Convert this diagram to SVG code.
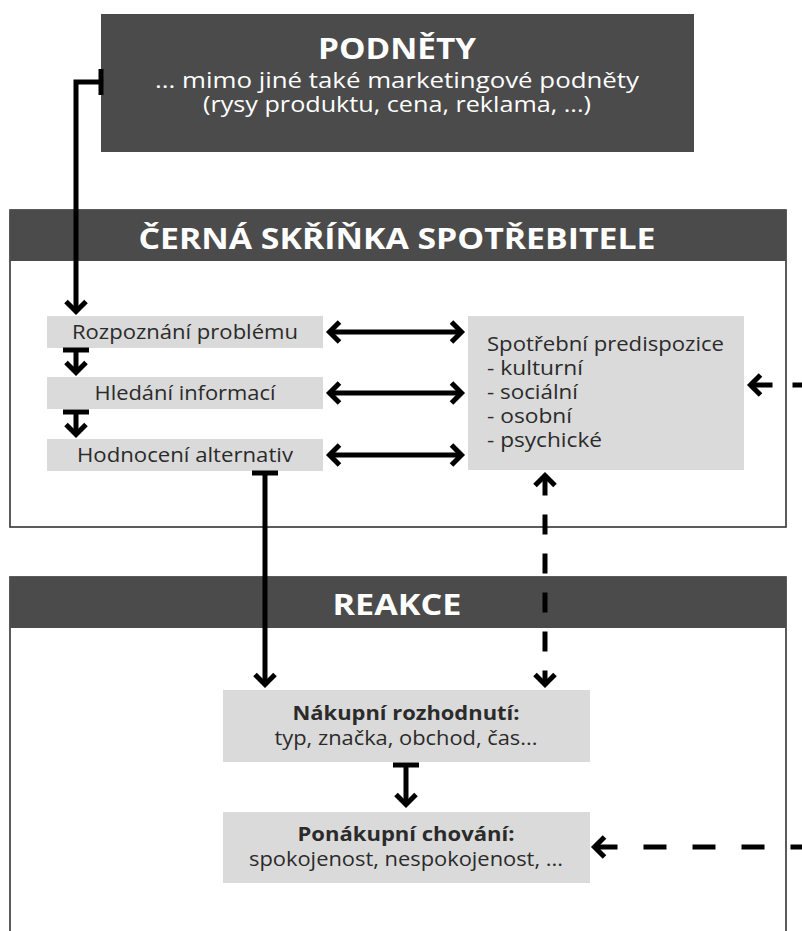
<svg xmlns="http://www.w3.org/2000/svg" width="802" height="931" viewBox="0 0 802 931">
<style>
.hdr{fill:#4b4b4b}
.frame{fill:#fff;stroke:#333;stroke-width:1.6}
.box{fill:#dadada}
.t{font-family:"Open Sans","Liberation Sans",sans-serif;fill:#2b2b2b}
.w{font-family:"Open Sans","Liberation Sans",sans-serif;fill:#fff}
.b{font-weight:bold}
.c{text-anchor:middle}
.ln{fill:none;stroke:#000;stroke-width:5}
.dl{fill:none;stroke:#000;stroke-width:5}
</style>
<defs>
<marker id="ah" viewBox="-16 -16 32 32" markerWidth="32" markerHeight="32" refX="0" refY="0" orient="auto-start-reverse" markerUnits="userSpaceOnUse">
<path d="M-10,-10 L0,0 L-10,10" fill="none" stroke="#000" stroke-width="5"/>
</marker>
<marker id="tb" viewBox="-16 -16 32 32" markerWidth="32" markerHeight="32" refX="0" refY="0" orient="auto" markerUnits="userSpaceOnUse">
<path d="M0,-13 L0,13" fill="none" stroke="#000" stroke-width="5"/>
</marker>
</defs>

<g id="podnety">
<rect x="101" y="14" width="593" height="138" class="hdr"/>
<text x="397" y="59" class="w b c" font-size="29" textLength="158" lengthAdjust="spacingAndGlyphs">PODNĚTY</text>
<text x="397" y="88" class="w c" font-size="21" textLength="484" lengthAdjust="spacingAndGlyphs">... mimo jiné také marketingové podněty</text>
<text x="397" y="112" class="w c" font-size="21" textLength="388" lengthAdjust="spacingAndGlyphs">(rysy produktu, cena, reklama, ...)</text>
</g>

<g id="cerna-skrinka">
<rect x="10" y="210" width="776" height="317" class="frame"/>
<rect x="10" y="210" width="776" height="51" class="hdr"/>
<text x="397" y="249" class="w b c" font-size="29" textLength="517" lengthAdjust="spacingAndGlyphs">ČERNÁ SKŘÍŇKA SPOTŘEBITELE</text>
</g>

<g id="reakce">
<rect x="10" y="577" width="776" height="380" class="frame"/>
<rect x="10" y="577" width="776" height="51" class="hdr"/>
<text x="397" y="615" class="w b c" font-size="28" textLength="129" lengthAdjust="spacingAndGlyphs">REAKCE</text>
</g>

<g id="rozpoznani">
<rect x="47" y="316" width="276" height="32" class="box"/>
<text x="185" y="339" class="t c" font-size="20" textLength="226" lengthAdjust="spacingAndGlyphs">Rozpoznání problému</text>
</g>
<g id="hledani">
<rect x="47" y="377" width="276" height="32" class="box"/>
<text x="185" y="400" class="t c" font-size="20" textLength="181" lengthAdjust="spacingAndGlyphs">Hledání informací</text>
</g>
<g id="hodnoceni">
<rect x="47" y="439" width="276" height="32" class="box"/>
<text x="185" y="462" class="t c" font-size="20" textLength="216" lengthAdjust="spacingAndGlyphs">Hodnocení alternativ</text>
</g>

<g id="predispozice">
<rect x="468" y="316" width="276" height="154" class="box"/>
<text x="487" y="351" class="t" font-size="20" textLength="237" lengthAdjust="spacingAndGlyphs">Spotřební predispozice</text>
<text x="487" y="375" class="t" font-size="20" textLength="96" lengthAdjust="spacingAndGlyphs">- kulturní</text>
<text x="487" y="399" class="t" font-size="20" textLength="91" lengthAdjust="spacingAndGlyphs">- sociální</text>
<text x="487" y="423" class="t" font-size="20" textLength="85" lengthAdjust="spacingAndGlyphs">- osobní</text>
<text x="487" y="447" class="t" font-size="20" textLength="115" lengthAdjust="spacingAndGlyphs">- psychické</text>
</g>

<g id="nakupni">
<rect x="223" y="690" width="367" height="72" class="box"/>
<text x="406" y="720" class="t b c" font-size="20" textLength="227" lengthAdjust="spacingAndGlyphs">Nákupní rozhodnutí:</text>
<text x="406" y="745" class="t c" font-size="20" textLength="263" lengthAdjust="spacingAndGlyphs">typ, značka, obchod, čas...</text>
</g>

<g id="ponakupni">
<rect x="223" y="812" width="367" height="71" class="box"/>
<text x="406" y="841" class="t b c" font-size="20" textLength="217" lengthAdjust="spacingAndGlyphs">Ponákupní chování:</text>
<text x="406" y="866" class="t c" font-size="20" textLength="314" lengthAdjust="spacingAndGlyphs">spokojenost, nespokojenost, ...</text>
</g>

<g id="connectors">
<path class="ln" d="M101,82 H76 V311.5" marker-start="url(#tb)" marker-end="url(#ah)"/>
<path class="ln" d="M76,350 V372.5" marker-start="url(#tb)" marker-end="url(#ah)"/>
<path class="ln" d="M76,412 V434.5" marker-start="url(#tb)" marker-end="url(#ah)"/>
<path class="ln" d="M329.5,332 H461.5" marker-start="url(#ah)" marker-end="url(#ah)"/>
<path class="ln" d="M329.5,393 H461.5" marker-start="url(#ah)" marker-end="url(#ah)"/>
<path class="ln" d="M329.5,455 H461.5" marker-start="url(#ah)" marker-end="url(#ah)"/>
<path class="ln" d="M265,473 V684.5" marker-start="url(#tb)" marker-end="url(#ah)"/>
<path class="ln" d="M406,765 V804.5" marker-start="url(#tb)" marker-end="url(#ah)"/>
<path class="dl" d="M545,475.5 V684.5" stroke-dasharray="20 19" marker-start="url(#ah)" marker-end="url(#ah)"/>
<path class="dl" d="M750.5,385 H840" stroke-dasharray="22 20" marker-start="url(#ah)"/>
<path class="dl" d="M594.5,847 H840" stroke-dasharray="23 26" marker-start="url(#ah)"/>
</g>
</svg>
